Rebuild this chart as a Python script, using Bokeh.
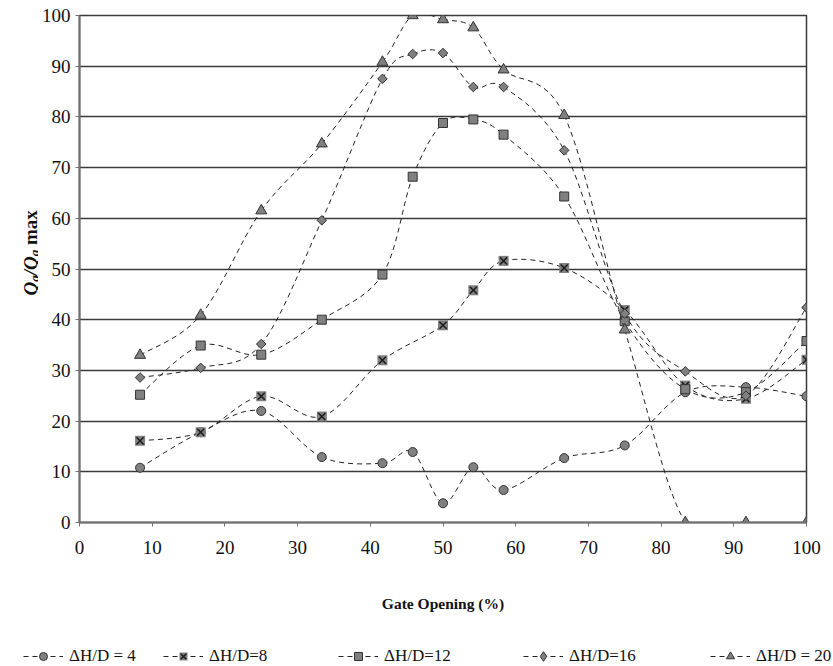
import math
from bokeh.plotting import figure
from bokeh.layouts import column, row
from bokeh.models import Legend, LegendItem, FixedTicker, Range1d, ColumnDataSource
from bokeh.core.properties import value
from bokeh.embed import file_html
from bokeh.resources import INLINE

# ---------------- data ----------------
gate_opening = [8.33, 16.67, 25, 33.33, 41.67, 45.83, 50, 54.17, 58.33, 66.67, 75, 83.33, 91.67, 100]
dh4 = [10.8, 17.8, 22.0, 12.9, 11.7, 13.9, 3.8, 10.9, 6.4, 12.7, 15.2, 25.7, 26.7, 24.9]
dh8 = [16.1, 17.8, 24.9, 20.9, 32.0, None, 38.9, 45.8, 51.6, 50.2, 41.9, 27.0, 24.4, 32.1]
dh12 = [25.2, 34.9, 33.1, 40.0, 48.9, 68.2, 78.8, 79.5, 76.5, 64.3, 39.7, 26.3, 25.7, 35.8]
dh16 = [28.6, 30.5, 35.2, 59.6, 87.5, 92.4, 92.6, 85.9, 85.9, 73.4, 41.2, 29.8, 25.0, 42.4]
dh20 = [33.0, 40.9, 61.5, 74.7, 90.8, 100.0, 99.2, 97.6, 89.3, 80.3, 38.0, 0.0, 0.0, 0.0]

series_labels = ["ΔH/D = 4", "ΔH/D=8", "ΔH/D=12", "ΔH/D=16", "ΔH/D = 20"]
x_ticks = [0, 10, 20, 30, 40, 50, 60, 70, 80, 90, 100]
y_ticks = [0, 10, 20, 30, 40, 50, 60, 70, 80, 90, 100]
x_title = "Gate Opening (%)"

FONT = "Liberation Serif"
LINE_COL = "#222222"
FILL_COL = "#808080"
EDGE_COL = "#333333"
DASH = "5 4"

YLAB_W = 38          # width of the strip holding the y-axis title
MAIN_W = 833 - YLAB_W
MAIN_H = 636
LEG_H = 30
FRAME_TOP = 15
FRAME_BOTTOM = 522


def points(xs, ys):
    return [(x, y) for x, y in zip(xs, ys) if y is not None]


def smooth_source(xs, ys):
    """Bezier segments (Catmull-Rom style smoothing, like a spreadsheet's smoothed line)."""
    pts = points(xs, ys)
    n = len(pts)
    d = dict(x0=[], y0=[], x1=[], y1=[], cx0=[], cy0=[], cx1=[], cy1=[])
    for i in range(n - 1):
        p0 = pts[i - 1] if i > 0 else pts[i]
        p1 = pts[i]
        p2 = pts[i + 1]
        p3 = pts[i + 2] if i + 2 < n else pts[i + 1]
        d["x0"].append(p1[0]); d["y0"].append(p1[1])
        d["x1"].append(p2[0]); d["y1"].append(p2[1])
        d["cx0"].append(p1[0] + (p2[0] - p0[0]) / 6.0)
        d["cy0"].append(p1[1] + (p2[1] - p0[1]) / 6.0)
        d["cx1"].append(p2[0] - (p3[0] - p1[0]) / 6.0)
        d["cy1"].append(p2[1] - (p3[1] - p1[1]) / 6.0)
    return ColumnDataSource(d)


# marker styles per series: list of (marker, size, angle, fill, line, line_width)
marker_styles = [
    [("circle", 9, 0, FILL_COL, EDGE_COL, 1)],
    [("square", 10, 0, FILL_COL, None, 1), ("x", 10, 0, None, "#1a1a1a", 1.5)],
    [("square", 9, 0, FILL_COL, EDGE_COL, 1)],
    [("square", 6.8, math.pi / 4, FILL_COL, EDGE_COL, 1)],
    [("triangle", 11, 0, FILL_COL, EDGE_COL, 1)],
]
legend_marker_styles = [
    [("circle", FILL_COL, EDGE_COL, 1)],
    [("square", FILL_COL, None, 1), ("x", None, "#1a1a1a", 1.5)],
    [("square", FILL_COL, EDGE_COL, 1)],
    [("diamond", FILL_COL, EDGE_COL, 1)],
    [("triangle", FILL_COL, EDGE_COL, 1)],
]

# ---------------- main chart ----------------
p = figure(width=MAIN_W, height=MAIN_H, output_backend="svg", toolbar_location=None,
           x_range=Range1d(0, 100), y_range=Range1d(0, 100),
           min_border_left=79 - YLAB_W, min_border_right=27, min_border_top=FRAME_TOP,
           min_border_bottom=MAIN_H - FRAME_BOTTOM)
p.background_fill_color = "white"
p.border_fill_color = "white"
p.outline_line_color = "#3a3a3a"
p.outline_line_width = 1.5

p.xgrid.visible = False
p.ygrid.ticker = FixedTicker(ticks=y_ticks)
p.ygrid.grid_line_color = "#3a3a3a"
p.ygrid.grid_line_width = 1.3

for ax in (p.xaxis[0], p.yaxis[0]):
    ax.axis_line_color = "#707070"
    ax.axis_line_width = 2
    ax.major_tick_line_color = "#707070"
    ax.major_tick_line_width = 1
    ax.major_tick_in = 0
    ax.major_tick_out = 4
    ax.minor_tick_line_color = None
    ax.major_label_text_font = FONT
    ax.major_label_text_font_size = "19px"
    ax.major_label_text_color = "#111111"

p.xaxis.ticker = FixedTicker(ticks=x_ticks)
p.yaxis.ticker = FixedTicker(ticks=y_ticks)
p.xaxis.major_label_standoff = 14
p.yaxis.major_label_standoff = 5
p.xaxis.axis_label = x_title
p.xaxis.axis_label_text_font = FONT
p.xaxis.axis_label_text_font_style = "bold"
p.xaxis.axis_label_text_font_size = "15.5px"
p.xaxis.axis_label_text_color = "#111111"
p.xaxis.axis_label_standoff = 38

series = [dh4, dh8, dh12, dh16, dh20]
for idx, ys in enumerate(series):
    src = smooth_source(gate_opening, ys)
    p.bezier(x0="x0", y0="y0", x1="x1", y1="y1", cx0="cx0", cy0="cy0", cx1="cx1", cy1="cy1",
             source=src, line_color=LINE_COL, line_width=1, line_dash=DASH)
    pts = points(gate_opening, ys)
    px = [a for a, _ in pts]
    py = [b for _, b in pts]
    for mk, sz, ang, fc, lc, lw in marker_styles[idx]:
        p.scatter(px, py, marker=mk, size=sz, angle=ang, fill_color=fc, line_color=lc, line_width=lw)

# ---------------- y-axis title strip: Qa/Qa max ----------------
# y range in "pixels from the bottom of the chart" so its frame matches the main frame
py_fig = figure(width=YLAB_W, height=MAIN_H, output_backend="svg", toolbar_location=None,
                x_range=Range1d(0, YLAB_W),
                y_range=Range1d(MAIN_H - FRAME_BOTTOM, MAIN_H - FRAME_TOP),
                x_axis_type=None, y_axis_type=None,
                min_border_left=0, min_border_right=0,
                min_border_top=FRAME_TOP, min_border_bottom=MAIN_H - FRAME_BOTTOM)
py_fig.outline_line_color = None
py_fig.grid.visible = False
py_fig.background_fill_color = "white"
py_fig.border_fill_color = "white"

base_x = 30
y_start = MAIN_H - 295
# (text, style, font size, shift towards the baseline side, advance incl. following gap)
pieces = [
    ("Q", "bold italic", 19, 0, 13.7),
    ("a", "bold italic", 13, 3.5, 6.5),
    ("/", "bold italic", 19, 0, 5.3),
    ("Q", "bold italic", 19, 0, 13.7),
    ("a", "bold italic", 13, 3.5, 11.3),
    ("max", "bold", 19, 0, 35.0),
]
cur = y_start
for txt, style, fs, dx, w in pieces:
    py_fig.text(x=[base_x + dx], y=[cur], text=[txt], angle=math.pi / 2,
                text_font=value(FONT), text_font_style=style, text_font_size=f"{fs}px",
                text_color="#111111", text_align="left", text_baseline="alphabetic")
    cur += w

# ---------------- legend strip ----------------
lg = figure(width=833, height=LEG_H, output_backend="svg", toolbar_location=None,
            x_range=Range1d(0, 1), y_range=Range1d(0, 1),
            x_axis_type=None, y_axis_type=None, min_border=0)
lg.outline_line_color = None
lg.grid.visible = False
lg.background_fill_color = "white"
lg.border_fill_color = "white"

legend_x = [23, 163, 338, 523, 710]
legend_gh = [20, 20, 20, 24, 20]
for idx, ys in enumerate(series):
    # the series drawn again here lie outside this strip's 0..1 ranges; they only feed the legend glyphs
    pts = points(gate_opening, ys)
    px = [a for a, _ in pts]
    py = [b for _, b in pts]
    rends = [lg.line(px, py, line_color=LINE_COL, line_width=1, line_dash=DASH)]
    for mk, fc, lc, lw in legend_marker_styles[idx]:
        rends.append(lg.scatter(px, py, marker=mk, fill_color=fc, line_color=lc, line_width=lw))
    gh = legend_gh[idx]
    leg = Legend(items=[LegendItem(label=series_labels[idx], renderers=rends)],
                 location=(legend_x[idx], 10 - gh / 2), orientation="horizontal",
                 padding=0, margin=0, spacing=0,
                 glyph_width=40, glyph_height=gh, label_height=gh, label_standoff=6,
                 label_text_font=FONT, label_text_font_size="17px", label_text_color="#111111",
                 border_line_alpha=0, background_fill_alpha=0)
    lg.add_layout(leg, "center")

layout = column(row(py_fig, p, spacing=0), lg, spacing=0)
open("out.html", "w").write(file_html(layout, INLINE))
